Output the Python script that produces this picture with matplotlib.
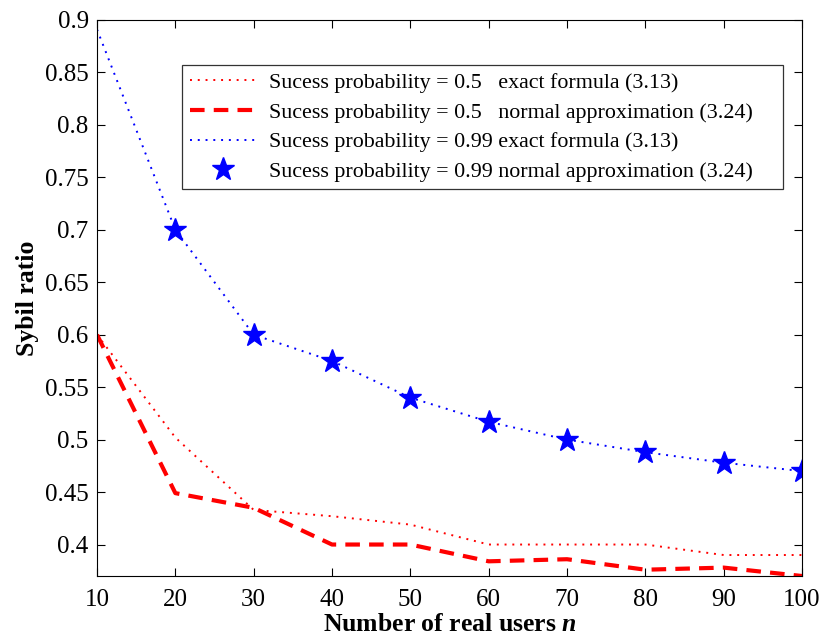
import matplotlib
matplotlib.use("Agg")
import matplotlib.pyplot as plt

plt.rcParams['font.family'] = 'serif'
plt.rcParams['font.serif'] = ['Liberation Serif', 'DejaVu Serif']
plt.rcParams['mathtext.fontset'] = 'custom'
plt.rcParams['mathtext.rm'] = 'Liberation Serif'
plt.rcParams['mathtext.bfit'] = 'Liberation Serif:italic:bold'

# number of real users
users = [10, 20, 30, 40, 50, 60, 70, 80, 90, 100]

# success probability 0.5
exact_05 = [0.60, 0.502, 0.433, 0.427, 0.419, 0.40, 0.40, 0.40, 0.39, 0.39]
normal_05 = [0.60, 0.449, 0.435, 0.40, 0.40, 0.384, 0.386, 0.376, 0.378, 0.37]

# success probability 0.99
exact_099 = [0.891, 0.70, 0.60, 0.575, 0.54, 0.517, 0.50, 0.488, 0.478, 0.47]
normal_099_users = users[1:]
normal_099 = [0.70, 0.60, 0.575, 0.54, 0.517, 0.50, 0.488, 0.478, 0.47]

labels = [
    'Sucess probability = 0.5   exact formula (3.13)',
    'Sucess probability = 0.5   normal approximation (3.24)',
    'Sucess probability = 0.99 exact formula (3.13)',
    'Sucess probability = 0.99 normal approximation (3.24)',
]

fig = plt.figure(figsize=(8.25, 6.41), dpi=100)
ax = fig.add_axes([0.1176, 0.1014, 0.8545, 0.8674])

ax.plot(users, exact_05, color='red', linestyle=(0, (1, 3)), linewidth=1.4,
        label=labels[0])
ax.plot(users, normal_05, color='red', linestyle=(0, (3.5, 2.2)), linewidth=3,
        label=labels[1])
ax.plot(users, exact_099, color='blue', linestyle=(0, (1, 3)), linewidth=1.4,
        label=labels[2])
ax.plot(normal_099_users, normal_099, color='blue', linestyle='none',
        marker='*', markersize=17, label=labels[3])

ax.set_xlim(10, 100)
ax.set_ylim(0.37, 0.9)
ax.set_xticks(range(10, 101, 10))
ax.set_yticks([0.4, 0.45, 0.5, 0.55, 0.6, 0.65, 0.7, 0.75, 0.8, 0.85, 0.9])
ax.set_yticklabels(['0.4', '0.45', '0.5', '0.55', '0.6', '0.65', '0.7',
                    '0.75', '0.8', '0.85', '0.9'])
ax.tick_params(direction='in', top=True, right=True, labelsize=18,
               length=6, width=0.8)
ax.tick_params(axis='x', pad=9)
ax.tick_params(axis='y', pad=6)
for s in ax.spines.values():
    s.set_linewidth(0.8)

ax.set_ylabel('Sybil ratio', fontsize=18.5, fontweight='bold', labelpad=4)
ax.set_xlabel(r'Number of real users $\mathbfit{n}$', fontsize=18.5,
              fontweight='bold', labelpad=2)

# legend stretched to the box width, anchored near the top left
leg = ax.legend(loc='upper left', bbox_to_anchor=(0.1206, 0.919, 0.8525, 0.0),
                mode='expand', prop={'size': 15.8},
                frameon=True, fancybox=False,
                handlelength=3.0, handletextpad=0.6, borderpad=0.35,
                labelspacing=0.42, borderaxespad=0)
leg.get_frame().set_edgecolor('black')
leg.get_frame().set_linewidth(0.9)

fig.savefig('out.png', dpi=100, facecolor='white')
